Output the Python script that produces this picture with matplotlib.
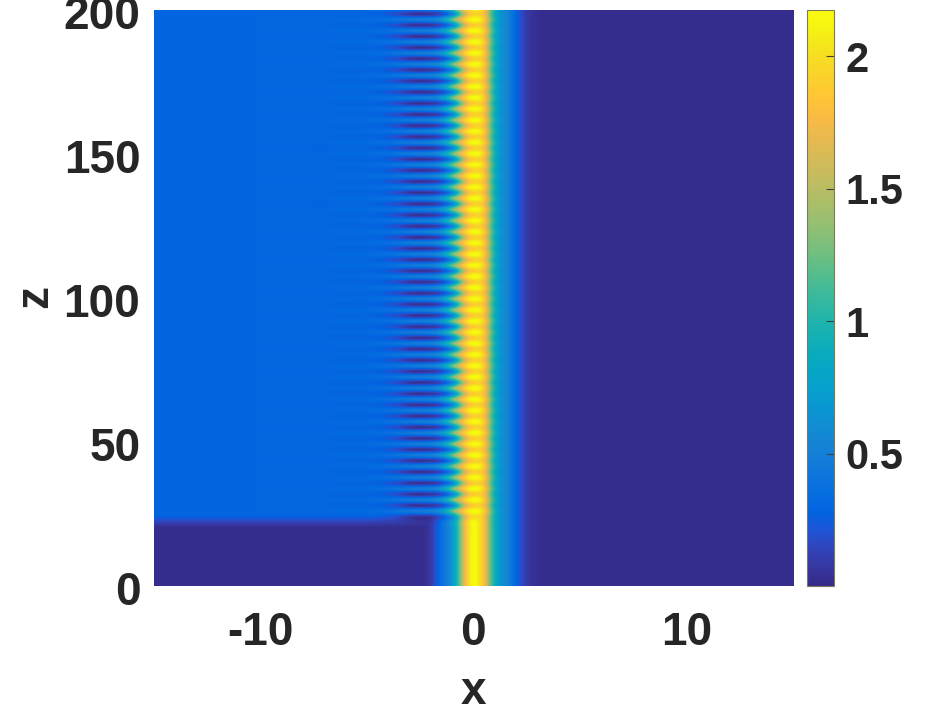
import numpy as np
import matplotlib
matplotlib.use('Agg')
import matplotlib.pyplot as plt
from matplotlib.colors import LinearSegmentedColormap
from matplotlib.transforms import ScaledTranslation

plt.rcParams['font.family'] = ['Liberation Sans', 'DejaVu Sans']
plt.rcParams['font.weight'] = 'bold'

# colormap table (parula)
parula = [
    (0.2081, 0.1663, 0.5292), (0.2123, 0.2138, 0.6270), (0.1959, 0.2645, 0.7279),
    (0.1253, 0.3242, 0.8303), (0.0117, 0.3875, 0.8820), (0.0165, 0.4266, 0.8786),
    (0.0498, 0.4586, 0.8641), (0.0723, 0.4887, 0.8467), (0.0793, 0.5200, 0.8312),
    (0.0641, 0.5570, 0.8240), (0.0343, 0.5966, 0.8199), (0.0239, 0.6287, 0.8038),
    (0.0228, 0.6535, 0.7768), (0.0384, 0.6743, 0.7436), (0.0843, 0.6928, 0.7062),
    (0.1453, 0.7098, 0.6646), (0.2178, 0.7250, 0.6193), (0.3022, 0.7376, 0.5712),
    (0.3953, 0.7459, 0.5244), (0.4871, 0.7491, 0.4840), (0.5709, 0.7485, 0.4494),
    (0.6473, 0.7456, 0.4188), (0.7184, 0.7411, 0.3905), (0.7858, 0.7356, 0.3633),
    (0.8507, 0.7299, 0.3360), (0.9139, 0.7258, 0.3063), (0.9739, 0.7314, 0.2666),
    (0.9990, 0.7653, 0.2164), (0.9880, 0.8066, 0.1794), (0.9697, 0.8481, 0.1475),
    (0.9589, 0.8949, 0.1132), (0.9661, 0.9514, 0.0755), (0.9763, 0.9831, 0.0538),
]

# profiles across x = -15 ... 15 in steps of 0.25
right_side = [0.02] * 48

bottom_row = [0.02] * 40 + [
    0.02, 0.02, 0.02, 0.02, 0.02, 0.02, 0.02, 0.02, 0.02, 0.02, 0.02,
    0.04, 0.10, 0.25, 0.37, 0.50, 0.72, 1.08, 1.60, 1.98, 2.17, 2.02,
    1.75, 1.25, 0.88, 0.66, 0.56, 0.42, 0.28, 0.16, 0.09, 0.05, 0.03] + right_side

edge_row = [0.13] * 40 + [
    0.13, 0.13, 0.12, 0.12, 0.11, 0.11, 0.10, 0.09, 0.08, 0.07, 0.06,
    0.06, 0.10, 0.22, 0.37, 0.52, 0.75, 1.10, 1.62, 2.00, 2.17, 2.02,
    1.75, 1.25, 0.88, 0.66, 0.56, 0.42, 0.28, 0.16, 0.09, 0.05, 0.03] + right_side

first_dark_row = [0.27] * 40 + [
    0.27, 0.26, 0.25, 0.24, 0.22, 0.20, 0.17, 0.13, 0.09, 0.06, 0.05,
    0.05, 0.08, 0.15, 0.25, 0.40, 0.62, 1.02, 1.50, 1.85, 2.00, 1.95,
    1.73, 1.25, 0.88, 0.66, 0.56, 0.42, 0.28, 0.16, 0.09, 0.05, 0.03] + right_side

dark_row = [0.30] * 30 + [0.295] * 10 + [
    0.29, 0.28, 0.27, 0.25, 0.22, 0.19, 0.16, 0.11, 0.07, 0.05, 0.04,
    0.05, 0.07, 0.10, 0.17, 0.32, 0.55, 0.98, 1.45, 1.78, 1.90, 1.90,
    1.72, 1.25, 0.86, 0.64, 0.56, 0.42, 0.28, 0.16, 0.09, 0.05, 0.03] + right_side

bright_row = [0.30] * 20 + [0.31] * 14 + [0.32] * 6 + [
    0.33, 0.34, 0.35, 0.36, 0.37, 0.39, 0.41, 0.43, 0.45, 0.47, 0.48,
    0.50, 0.52, 0.58, 0.72, 0.95, 1.25, 1.55, 1.85, 2.08, 2.17, 2.12,
    1.85, 1.35, 0.92, 0.68, 0.56, 0.42, 0.28, 0.16, 0.09, 0.05, 0.03] + right_side

# rows from the top of the picture, half a fringe apart
z_step = 1.939
z_top = 200.54
rows = ([bright_row, dark_row] * 45 + [bright_row, first_dark_row, edge_row]
        + [bottom_row] * 12)

field = np.array(rows)
n_rows = field.shape[0]

x_ticks = [-10, 0, 10]
x_tick_labels = ['-10', '0', '10']
z_ticks = [0, 50, 100, 150, 200]
cbar_ticks = [0.5, 1, 1.5, 2]
cbar_tick_labels = ['0.5', '1', '1.5', '2']

W, H = 943, 717
text_color = '#262626'
fig = plt.figure(figsize=(W / 100, H / 100), dpi=100)
ax = fig.add_axes([153.5 / W, 1 - 586 / H, 639.5 / W, 576 / H])
cax = fig.add_axes([807 / W, 1 - 586 / H, 27 / W, 576 / H])

cmap = LinearSegmentedColormap.from_list('parula', parula, N=256)
extent = [-15.125, 15.125,
          z_top - (n_rows - 0.5) * z_step, z_top + 0.5 * z_step]
im = ax.imshow(field, cmap=cmap, vmin=0, vmax=2.175, extent=extent, aspect='auto',
               interpolation='catrom', interpolation_stage='data')
ax.set_xlim(-15, 15)
ax.set_ylim(0, 200)

ax.set_xticks(x_ticks)
ax.set_xticklabels(x_tick_labels)
ax.set_yticks(z_ticks)
ax.tick_params(length=0, labelsize=33, labelcolor=text_color)
ax.tick_params(axis='x', pad=18)
ax.tick_params(axis='y', pad=9.5)
for lab in ax.get_yticklabels():
    lab.set_transform(lab.get_transform() + ScaledTranslation(0, -2 / 100, fig.dpi_scale_trans))
for s in ax.spines.values():
    s.set_visible(False)

fig.text(473 / W, 1 - 692 / H, 'x', fontsize=33, color=text_color, ha='center', va='center')
fig.text(35 / W, 1 - 297 / H, 'z', fontsize=33, color=text_color, ha='center', va='center',
         rotation=90)

cbar = fig.colorbar(im, cax=cax)
cbar.set_ticks(cbar_ticks)
cbar.set_ticklabels(cbar_tick_labels)
cbar.ax.tick_params(direction='in', length=6, width=0.8, color='#404040', labelsize=30,
                    labelcolor=text_color, pad=8.5)
cbar.ax.minorticks_off()
cbar.outline.set_edgecolor('#7a7a60')
cbar.outline.set_linewidth(0.8)

fig.savefig('out.png', dpi=100)
